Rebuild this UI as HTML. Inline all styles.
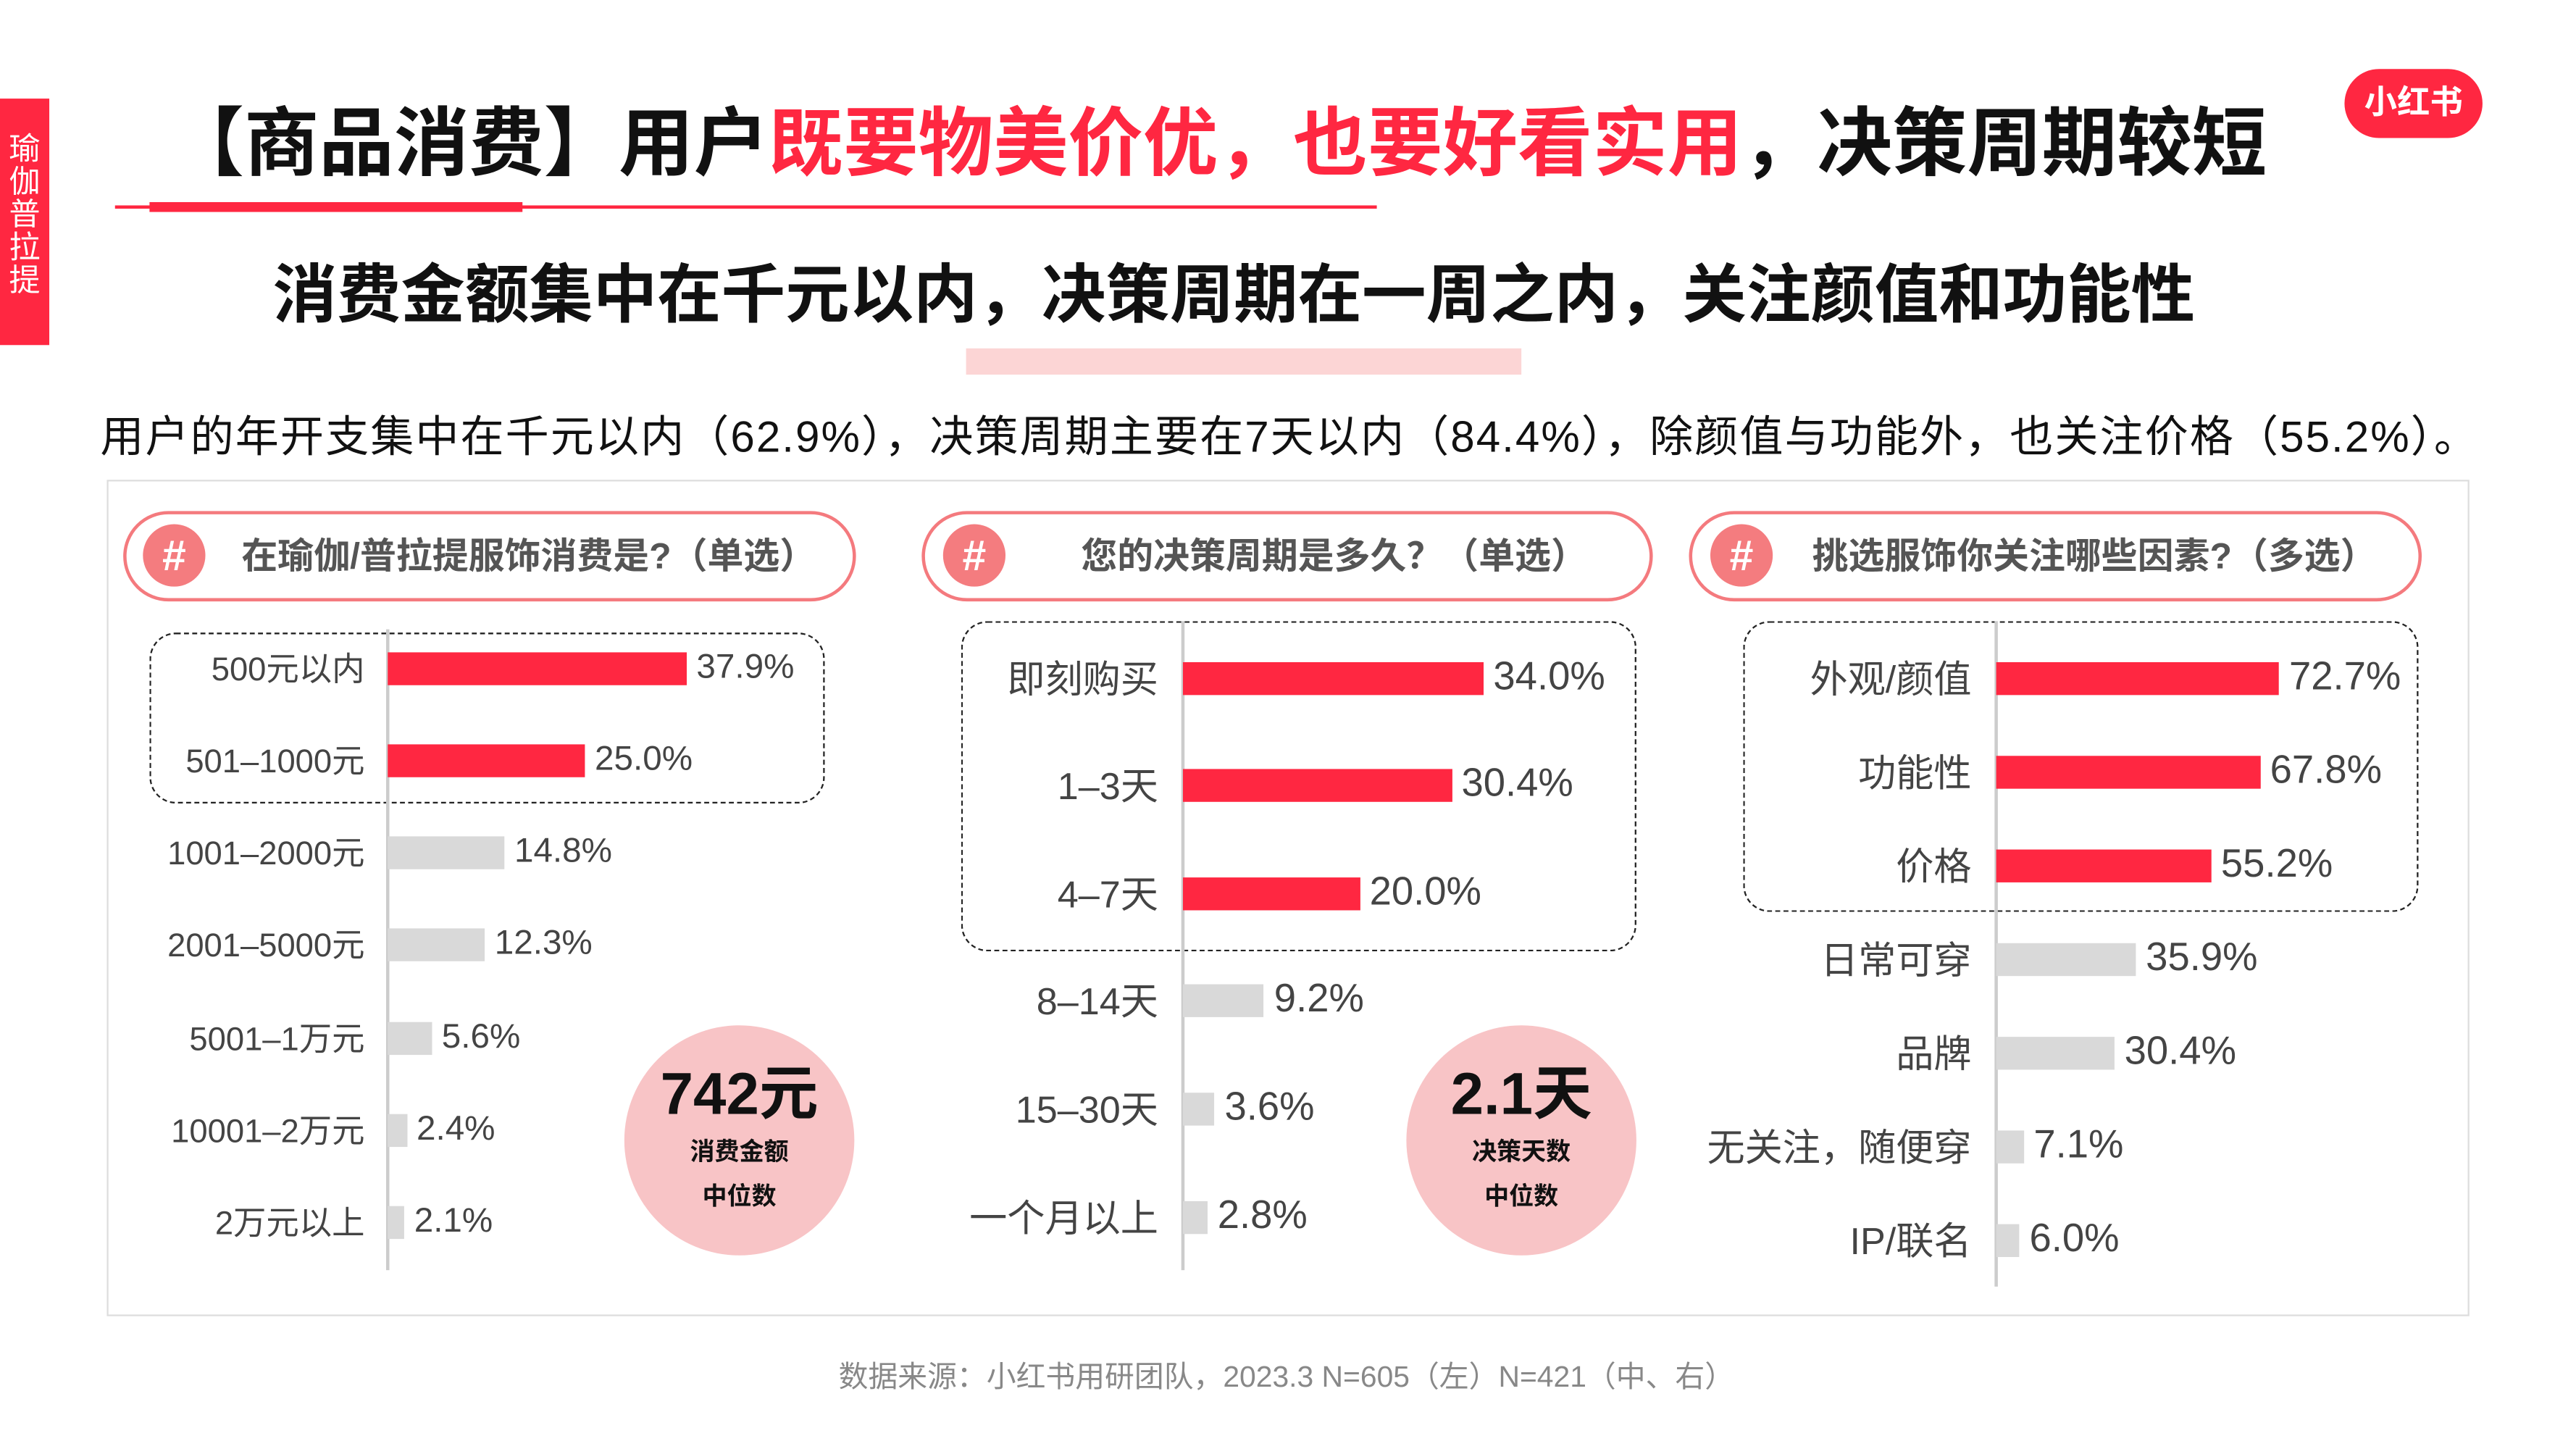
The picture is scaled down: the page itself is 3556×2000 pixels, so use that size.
<!DOCTYPE html>
<html><head><meta charset="utf-8"><style>
*{margin:0;padding:0;box-sizing:border-box}
body{width:3556px;height:2000px;background:#fff;overflow:hidden;font-family:"Liberation Sans","Noto Sans CJK SC",sans-serif}
#s{position:absolute;left:0;top:0;width:1568px;height:882px;transform:scale(2.268);transform-origin:0 0}
.a{position:absolute;white-space:nowrap}
.red{color:#ff2741}
.lab{position:absolute;white-space:nowrap;text-align:right;color:#444;transform:translateY(-55%)}
.val{position:absolute;white-space:nowrap;color:#444;transform:translateY(-52%)}
.bar{position:absolute;height:20px}
.pill{position:absolute;border:2.5px solid #f47a7e;border-radius:28px;height:55px;background:#fff}
.hash{position:absolute;width:38px;height:38px;border-radius:50%;background:#f47c7f;color:#fff;font-weight:bold;font-size:26px;line-height:38px;text-align:center}
.ph{position:absolute;font-size:22px;font-weight:bold;color:#555;white-space:nowrap;line-height:55px;top:0}
.dash{position:absolute;border:1.5px dashed #222;border-radius:16px}
.circ{position:absolute;width:140px;height:140px;border-radius:50%;background:#f8c4c6;text-align:center;color:#111}
.axis{position:absolute;width:1.5px;background:#ccc}
</style></head><body><div id="s">
<div class="a" style="left:0;top:60px;width:30px;height:150px;background:#ff2741;color:#fff;font-size:19px;line-height:20px;text-align:center;padding-top:22px;white-space:normal">瑜<br>伽<br>普<br>拉<br>提</div>
<div class="a" style="left:1427px;top:42px;width:84px;height:42px;border-radius:21px;background:#ff2741;color:#fff;font-weight:bold;font-size:20px;line-height:42px;text-align:center">小红书</div>
<div class="a" style="left:103px;top:58px;font-size:45.6px;font-weight:bold;color:#111;line-height:60px">【商品消费】用户<span class="red">既要物美价优，也要好看实用</span>，决策周期较短</div>
<div class="a" style="left:70px;top:125px;width:768px;height:2px;background:#ff2741"></div>
<div class="a" style="left:91px;top:123px;width:227px;height:6px;background:#ff2741"></div>
<div class="a" style="left:588px;top:212px;width:338px;height:16px;background:#fcd5d5"></div>
<div class="a" style="left:166px;top:156px;font-size:39px;font-weight:bold;color:#111;line-height:50px">消费金额集中在千元以内，决策周期在一周之内，关注颜值和功能性</div>
<div class="a" style="left:61px;top:249px;font-size:26.5px;color:#111;line-height:34px;letter-spacing:0.9px">用户的年开支集中在千元以内（62.9%），决策周期主要在7天以内（84.4%），除颜值与功能外，也关注价格（55.2%）。</div>
<div class="a" style="left:65px;top:292px;width:1438px;height:509px;border:1.5px solid #ddd"></div>
<div class="a" style="left:0;width:1556px;top:824px;text-align:center;font-size:18px;color:#888;padding-left:10px">数据来源：小红书用研团队，2023.3 N=605（左）N=421（中、右）</div>

<div class="pill" style="left:75px;top:311px;width:446px"></div>
<div class="hash" style="left:87px;top:319px">#</div>
<div class="ph" style="left:147px;top:311px">在瑜伽/普拉提服饰消费是?（单选）</div>
<div class="dash" style="left:91px;top:385px;width:411px;height:104px"></div>
<div class="axis" style="left:235px;top:383px;height:390px"></div>
<div class="circ" style="left:380px;top:624px"><div style="font-size:36px;font-weight:bold;line-height:40px;padding-top:22px">742元</div><div style="font-size:15px;font-weight:bold;line-height:27px;padding-top:2px">消费金额<br>中位数</div></div>

<div class="pill" style="left:561px;top:311px;width:445px"></div>
<div class="hash" style="left:574px;top:319px">#</div>
<div class="ph" style="left:658px;top:311px">您的决策周期是多久？（单选）</div>
<div class="dash" style="left:585px;top:378px;width:411px;height:201px"></div>
<div class="axis" style="left:719px;top:378px;height:395px"></div>
<div class="circ" style="left:856px;top:624px"><div style="font-size:36px;font-weight:bold;line-height:40px;padding-top:22px">2.1天</div><div style="font-size:15px;font-weight:bold;line-height:27px;padding-top:2px">决策天数<br>中位数</div></div>

<div class="pill" style="left:1028px;top:311px;width:446px"></div>
<div class="hash" style="left:1041px;top:319px">#</div>
<div class="ph" style="left:1103px;top:311px">挑选服饰你关注哪些因素?（多选）</div>
<div class="dash" style="left:1061px;top:378px;width:411px;height:177px"></div>
<div class="axis" style="left:1214px;top:378px;height:405px"></div>

<div id="bars"></div>
<script>
var P=[
 {ax:236,lr:222,k:4.8,fs:20,rows:[["500元以内",37.9,1,407],["501–1000元",25.0,1,463],["1001–2000元",14.8,0,519],["2001–5000元",12.3,0,575],["5001–1万元",5.6,0,632],["10001–2万元",2.4,0,688],["2万元以上",2.1,0,744]]},
 {ax:720,lr:705,k:5.38,fs:23,rows:[["即刻购买",34.0,1,413],["1–3天",30.4,1,478],["4–7天",20.0,1,544],["8–14天",9.2,0,609],["15–30天",3.6,0,675],["一个月以上",2.8,0,741]]},
 {ax:1215,lr:1200,k:2.37,fs:23,rows:[["外观/颜值",72.7,1,413],["功能性",67.8,1,470],["价格",55.2,1,527],["日常可穿",35.9,0,584],["品牌",30.4,0,641],["无关注，随便穿",7.1,0,698],["IP/联名",6.0,0,755]]}
];
var h="";
P.forEach(function(p){p.rows.forEach(function(r){
 var w=r[1]*p.k;
 h+='<div class="lab" style="right:'+(1568-p.lr)+'px;top:'+r[3]+'px;font-size:'+p.fs+'px">'+r[0]+'</div>';
 h+='<div class="bar" style="left:'+p.ax+'px;top:'+(r[3]-10)+'px;width:'+w+'px;background:'+(r[2]?'#ff2741':'#d9d9d9')+'"></div>';
 h+='<div class="val" style="left:'+(p.ax+w+6)+'px;top:'+r[3]+'px;font-size:'+(p.fs+1)+'px">'+r[1].toFixed(1)+'%</div>';
});});
document.getElementById('bars').innerHTML=h;
</script>
</div></body></html>
